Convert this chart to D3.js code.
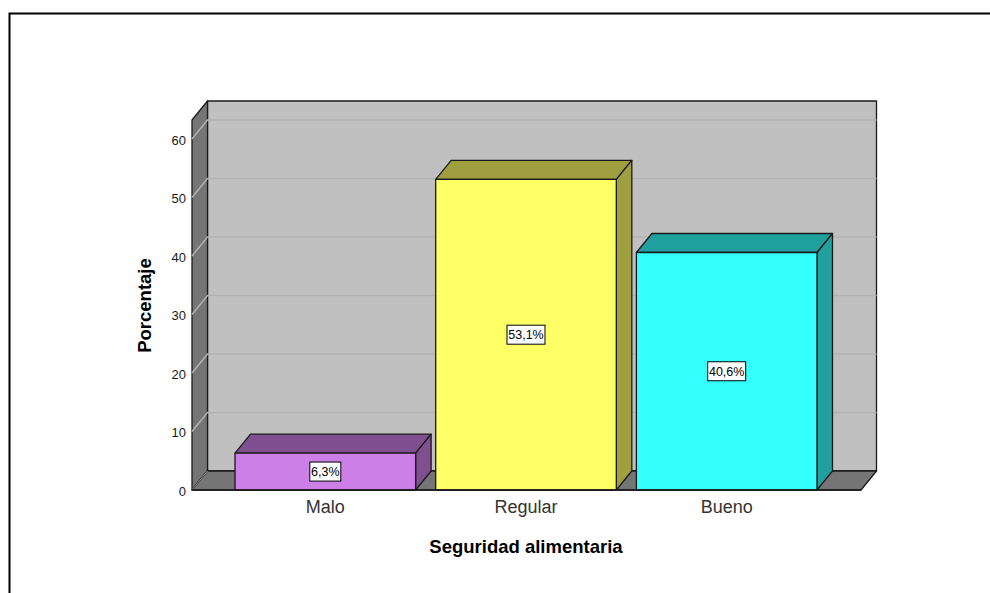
<!DOCTYPE html>
<html>
<head>
<meta charset="utf-8">
<script src="https://cdn.jsdelivr.net/npm/d3@7"></script>
<style>
    html, body { margin: 0; padding: 0; background: #fff; overflow: hidden; }
    svg { display: block; }
    text { font-family: "Liberation Sans", Arial, sans-serif; }
</style>
</head>
<body>
<div id="chart"></div>
<script>
const categories = ['Malo', 'Regular', 'Bueno'];
const percentages = [6.3, 53.1, 40.6];
const yTicks = [0, 10, 20, 30, 40, 50, 60];
const frontColors = ['#cc7fe6', '#ffff66', '#33ffff'];
const darkColors = ['#7f4f8f', '#9f9f3f', '#209f9f'];

const width = 990, height = 593;
const depthX = 15.5, depthY = 19;
const plotLeft = 192, plotRight = 861, plotBottom = 490, plotTop = 120;

const svg = d3.select('#chart').append('svg')
    .attr('width', width)
    .attr('height', height);

const x = d3.scaleBand()
    .domain(categories)
    .range([235, 817])
    .paddingInner(0.1);

const y = d3.scaleLinear()
    .domain([0, 60])
    .range([plotBottom, 139]);

// page frame, runs off the right and bottom edges
svg.append('path')
    .attr('d', `M9.5,${height}V13.5H${width}`)
    .attr('fill', 'none')
    .attr('stroke', '#000')
    .attr('stroke-width', 2);

function poly(points, fill) {
    return svg.append('polygon')
        .attr('points', points.map(p => p.join(',')).join(' '))
        .attr('fill', fill)
        .attr('stroke', '#1a1a1a')
        .attr('stroke-width', 1.3)
        .attr('stroke-linejoin', 'round');
}

// back wall, left wall, floor
poly([[plotLeft + depthX, plotTop - depthY], [plotRight + depthX, plotTop - depthY], [plotRight + depthX, plotBottom - depthY], [plotLeft + depthX, plotBottom - depthY]], '#c0c0c0');
poly([[plotLeft, plotTop], [plotLeft + depthX, plotTop - depthY], [plotLeft + depthX, plotBottom - depthY], [plotLeft, plotBottom]], '#757575');
poly([[plotLeft, plotBottom], [plotLeft + depthX, plotBottom - depthY], [plotRight + depthX, plotBottom - depthY], [plotRight, plotBottom]], '#757575');

// gridlines on the walls
svg.append('g')
    .selectAll('path')
    .data(yTicks.slice(1))
    .enter()
    .append('path')
    .attr('d', d => `M${plotLeft},${y(d)}L${plotLeft + depthX},${y(d) - depthY}H${plotRight + depthX}`)
    .attr('fill', 'none')
    .attr('stroke', '#b2b2b2')
    .attr('stroke-width', 1.5);

// slanted line at the zero level
svg.append('path')
    .attr('d', `M${plotLeft},${y(0)}L${plotLeft + depthX},${y(0) - depthY}`)
    .attr('stroke', '#9a9a9a')
    .attr('stroke-width', 1);

// bars
categories.forEach((cat, i) => {
    const x0 = x(cat), x1 = x0 + x.bandwidth();
    const yTop = y(percentages[i]);
    poly([[x0, yTop], [x0 + depthX, yTop - depthY], [x1 + depthX, yTop - depthY], [x1, yTop]], darkColors[i]);
    poly([[x1, yTop], [x1 + depthX, yTop - depthY], [x1 + depthX, plotBottom - depthY], [x1, plotBottom]], darkColors[i]);
    poly([[x0, yTop], [x1, yTop], [x1, plotBottom], [x0, plotBottom]], frontColors[i]);
});

// front baseline
svg.append('line')
    .attr('x1', plotLeft).attr('x2', plotRight)
    .attr('y1', plotBottom).attr('y2', plotBottom)
    .attr('stroke', '#1a1a1a')
    .attr('stroke-width', 1.5);

// value labels
const labels = svg.append('g')
    .selectAll('g')
    .data(categories)
    .enter()
    .append('g')
    .attr('transform', (d, i) => `translate(${x(d) + x.bandwidth() / 2},${(y(percentages[i]) + plotBottom) / 2})`);

labels.append('rect')
    .attr('x', (d, i) => percentages[i] < 10 ? -15.5 : -19)
    .attr('y', -9.5)
    .attr('width', (d, i) => percentages[i] < 10 ? 31 : 38)
    .attr('height', 19)
    .attr('fill', '#fff')
    .attr('stroke', '#000')
    .attr('stroke-width', 1);

labels.append('text')
    .attr('text-anchor', 'middle')
    .attr('dy', '0.36em')
    .attr('font-size', 12.5)
    .attr('fill', '#000')
    .text((d, i) => percentages[i].toFixed(1).replace('.', ',') + '%');

// axes
const yAxis = svg.append('g')
    .attr('transform', `translate(${plotLeft},0)`)
    .call(d3.axisLeft(y).tickValues(yTicks).tickSize(0).tickPadding(6));
yAxis.select('.domain').remove();
yAxis.selectAll('text')
    .attr('font-size', 13)
    .attr('dy', '0.42em')
    .attr('font-family', '"Liberation Sans", Arial, sans-serif')
    .attr('fill', '#1a1a1a');

const xAxis = svg.append('g')
    .attr('transform', `translate(0,${plotBottom})`)
    .call(d3.axisBottom(x).tickSize(0).tickPadding(10));
xAxis.select('.domain').remove();
xAxis.selectAll('text')
    .attr('font-size', 18)
    .attr('font-family', '"Liberation Sans", Arial, sans-serif')
    .attr('fill', '#333');

// axis titles
svg.append('text')
    .attr('x', 526)
    .attr('y', 552.5)
    .attr('text-anchor', 'middle')
    .attr('font-size', 18.5)
    .attr('font-weight', 'bold')
    .attr('fill', '#000')
    .text('Seguridad alimentaria');

svg.append('text')
    .attr('transform', 'translate(151,305.5) rotate(-90)')
    .attr('text-anchor', 'middle')
    .attr('font-size', 18.5)
    .attr('font-weight', 'bold')
    .attr('fill', '#000')
    .text('Porcentaje');
</script>
</body>
</html>
